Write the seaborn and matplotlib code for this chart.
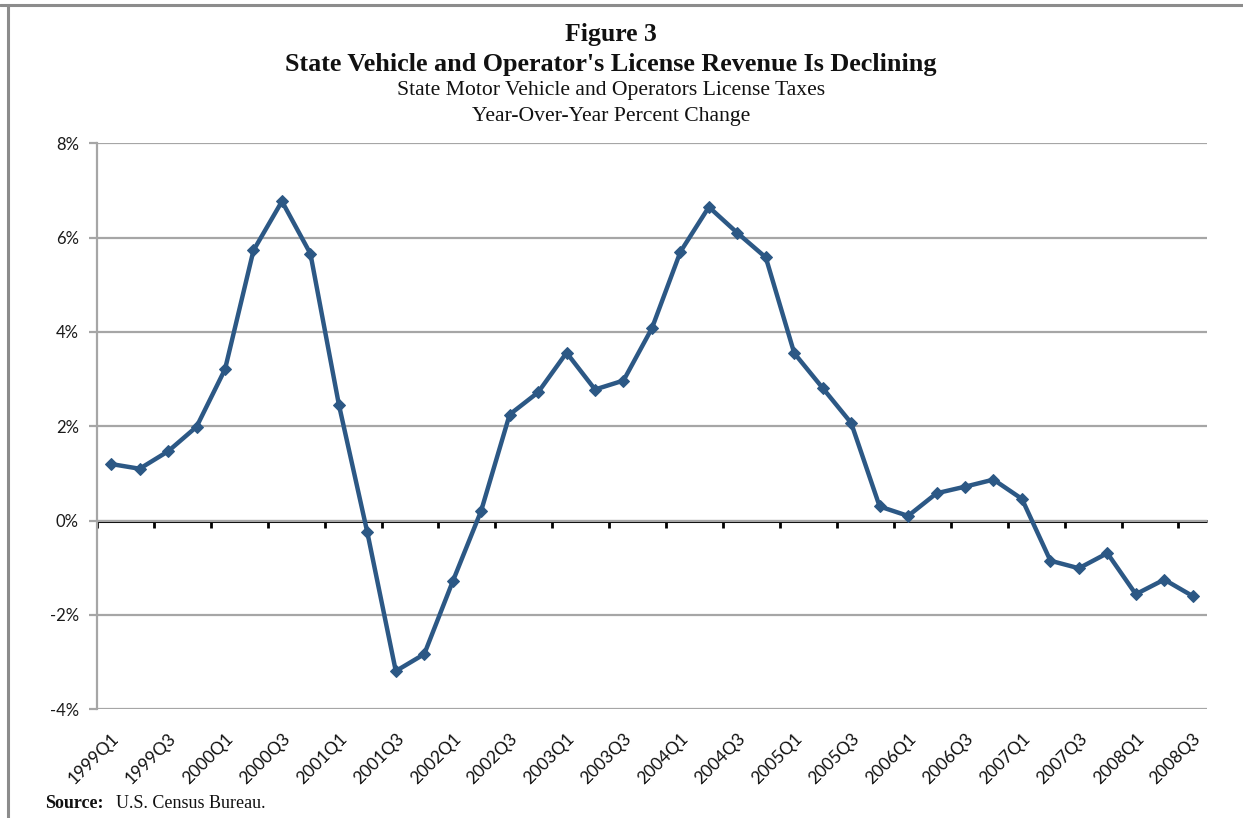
import numpy as np
import pandas as pd
import matplotlib
matplotlib.use("Agg")
import matplotlib.pyplot as plt
import seaborn as sns
from matplotlib.lines import Line2D
from matplotlib.ticker import FuncFormatter

# ---- data ----
years = list(range(1999, 2009))
quarter_labels = [f"{y}Q{q}" for y in years for q in (1, 2, 3, 4)][:39]
pct_change = [1.20, 1.10, 1.47, 1.99, 3.21, 5.73, 6.77, 5.66, 2.46, -0.25,
              -3.19, -2.83, -1.29, 0.21, 2.25, 2.72, 3.56, 2.78, 2.97, 4.08,
              5.70, 6.65, 6.10, 5.58, 3.55, 2.81, 2.07, 0.30, 0.10, 0.58,
              0.72, 0.87, 0.46, -0.85, -1.01, -0.69, -1.56, -1.25, -1.60]
y_ticks = [-4, -2, 0, 2, 4, 6, 8]

df = pd.DataFrame({"quarter": quarter_labels,
                   "idx": np.arange(len(quarter_labels)),
                   "pct": pct_change})

sns.set_style("white")
plt.rcParams["font.family"] = ["Lato", "DejaVu Sans"]

LINE = "#2C5885"
GRID = "#A6A6A6"

fig = plt.figure(figsize=(12.43, 8.18), dpi=100)
ax = fig.add_axes([0.078, 0.1329, 0.8930, 0.6919])

sns.lineplot(data=df, x="idx", y="pct", ax=ax, color=LINE, linewidth=3.2,
             marker="D", markersize=6, markeredgecolor=LINE, zorder=5)

ax.set_xlim(-0.5, len(quarter_labels) - 0.5)
ax.set_ylim(min(y_ticks), max(y_ticks))
ax.set_yticks(y_ticks)
ax.yaxis.set_major_formatter(FuncFormatter(lambda v, p: f"{v:.0f}%"))
ax.yaxis.grid(True, color=GRID, linewidth=1.6)
ax.xaxis.grid(False)
ax.set_axisbelow(True)
for s in ("top", "right", "bottom"):
    ax.spines[s].set_visible(False)
ax.spines["left"].set_color(GRID)
ax.spines["left"].set_linewidth(1.6)
ax.tick_params(axis="y", length=6, width=1.6, color=GRID, pad=7,
               labelsize=12, labelcolor="#1a1a1a", left=True)
ax.yaxis.get_major_ticks()[y_ticks.index(0)].tick1line.set_color("black")

ax.set_xticks(df["idx"][::2])
ax.set_xticklabels(df["quarter"][::2], rotation=45, ha="right",
                   rotation_mode="anchor", fontsize=12.5, color="#111111")
ax.tick_params(axis="x", length=0, pad=15)
ax.set_xlabel("")
ax.set_ylabel("")

# horizontal axis crossing at 0 with tick marks between category pairs
sec = ax.secondary_xaxis(0, transform=ax.transData)
for s in ("top", "left", "right"):
    sec.spines[s].set_visible(False)
sec.spines["bottom"].set_color("black")
sec.spines["bottom"].set_linewidth(2.2)
sec.spines["bottom"].set_capstyle("butt")
sec.set_xticks(np.arange(-0.5, len(quarter_labels) - 1, 2))
sec.set_xticklabels([])
sec.tick_params(axis="x", length=5, width=2, color="black", direction="out")

# frame lines
fig.add_artist(Line2D([8 / 1243, 8 / 1243], [0, 1 - 5 / 818],
                      transform=fig.transFigure, color="#8C8C8C", lw=2.2))
fig.add_artist(Line2D([0, 1], [1 - 5 / 818, 1 - 5 / 818],
                      transform=fig.transFigure, color="#8C8C8C", lw=2.2))

serif = ["Liberation Serif", "DejaVu Serif"]
cx = 611 / 1243
fig.text(cx, 1 - 34 / 818, "Figure 3", ha="center", va="center",
         family=serif, weight="bold", size=18.5, color="#111111")
fig.text(cx, 1 - 65 / 818, "State Vehicle and Operator's License Revenue Is Declining",
         ha="center", va="center", family=serif, weight="bold", size=18.8,
         color="#111111")
fig.text(cx, 1 - 91 / 818, "State Motor Vehicle and Operators License Taxes",
         ha="center", va="center", family=serif, size=15.6, color="#111111")
fig.text(cx, 1 - 116 / 818, "Year-Over-Year Percent Change",
         ha="center", va="center", family=serif, size=15.6, color="#111111")

fig.text(45 / 1243, 1 - 803 / 818, "Source:", ha="left", va="center",
         family=serif, weight="bold", size=13, color="#111111")
fig.text(116 / 1243, 1 - 803 / 818, "U.S. Census Bureau.", ha="left",
         va="center", family=serif, size=13, color="#111111")

fig.savefig("out.png", dpi=100, facecolor="white")
